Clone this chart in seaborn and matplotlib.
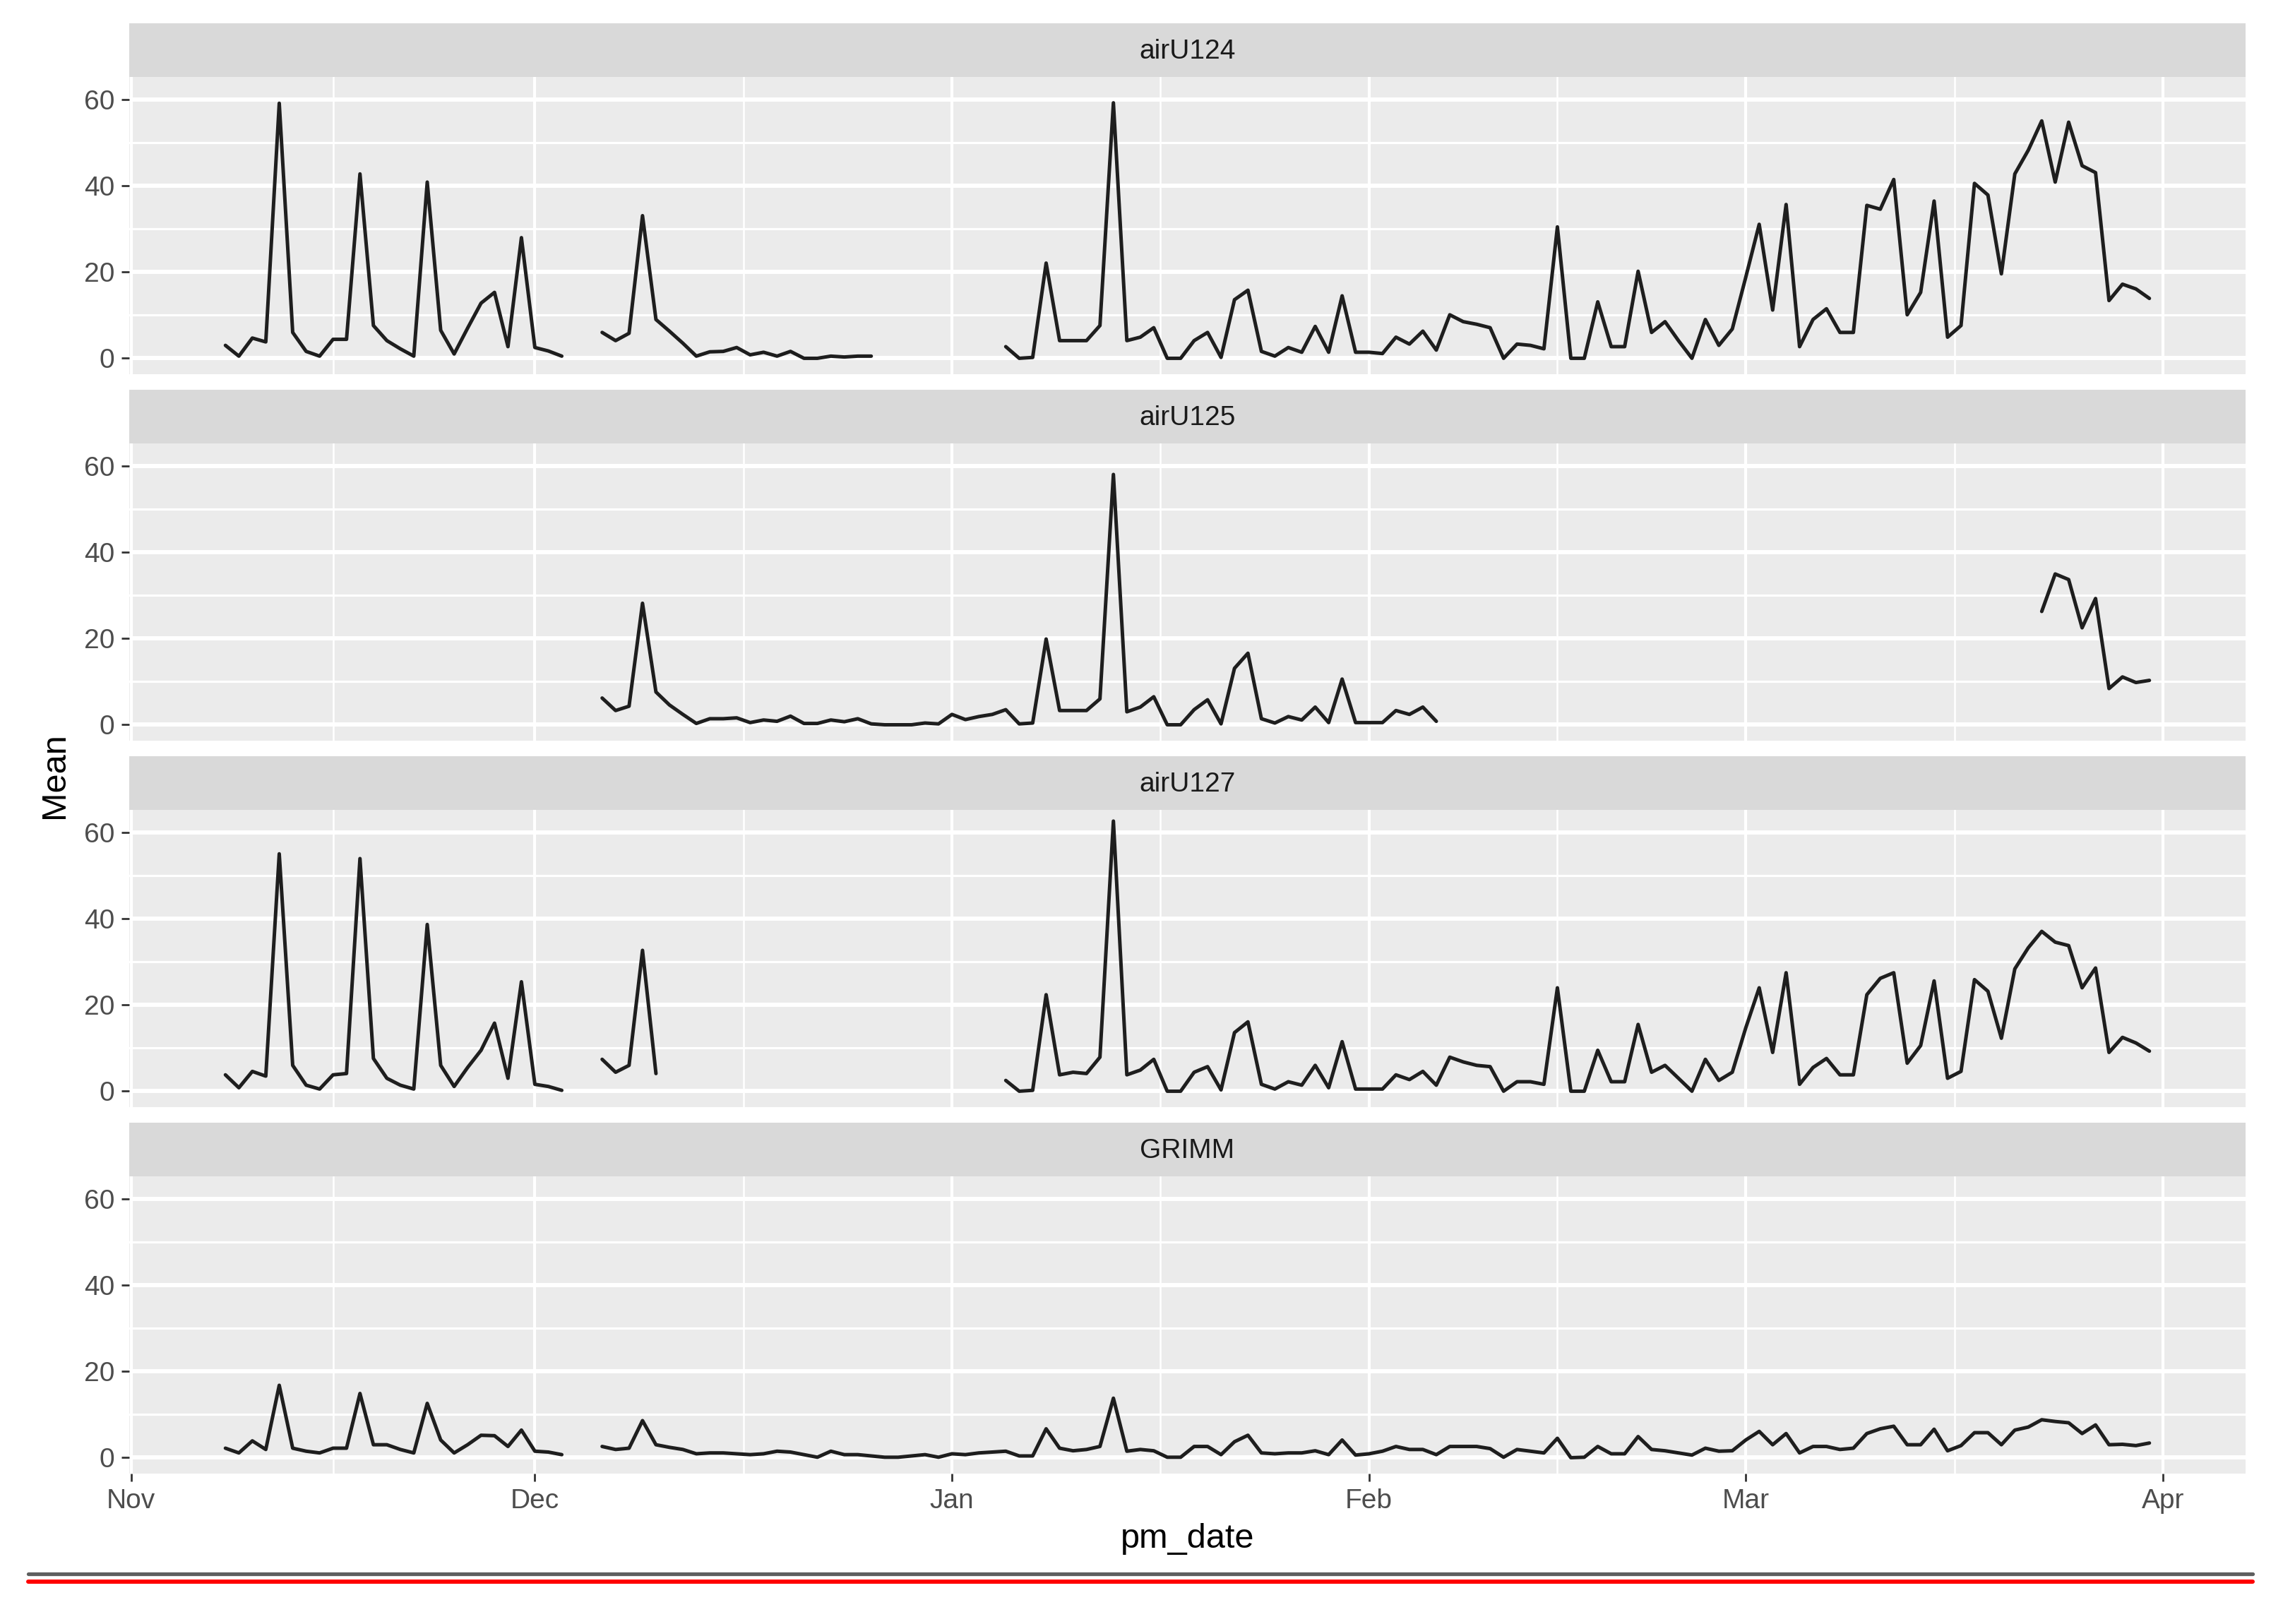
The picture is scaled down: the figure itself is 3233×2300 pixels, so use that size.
#!/usr/bin/env python3

import matplotlib

matplotlib.use("Agg")
import matplotlib.dates as mdates
import matplotlib.pyplot as plt
import pandas
import seaborn as sns
from matplotlib.lines import Line2D
from matplotlib.ticker import FixedLocator

# Daily means, one value per day.
# Each list is a run of consecutive days starting at the date next to it.
sensors = ["airU124", "airU125", "airU127", "GRIMM"]

airu124_a_start = "2017-11-08"
airu124_a = [3.0, 0.5, 4.7, 3.8, 59.2, 6.0, 1.6, 0.5, 4.4, 4.4, 42.8, 7.6, 4.1,
             2.2, 0.5, 40.9, 6.5, 1.0, 7.0, 12.8, 15.3, 2.7, 28.0, 2.5, 1.7, 0.5]
airu124_b_start = "2017-12-06"
airu124_b = [6.0, 4.1, 5.8, 33.1, 9.0, 6.3, 3.5, 0.5, 1.5, 1.6, 2.5, 0.8, 1.4,
             0.5, 1.6, 0.0, 0.0, 0.5, 0.3, 0.5, 0.5]
airu124_c_start = "2018-01-05"
airu124_c = [2.7, 0.0, 0.2, 22.1, 4.1, 4.1, 4.1, 7.6, 59.3, 4.1, 4.9, 7.1,
             0.0, 0.0, 4.1, 6.0, 0.2, 13.6, 15.8, 1.6, 0.5, 2.5, 1.4, 7.4, 1.4, 14.5,
             1.4, 1.4, 1.1, 4.9, 3.3, 6.3, 1.9, 10.1, 8.5, 7.9, 7.1, 0.0, 3.3, 3.0, 2.2,
             30.5, 0.0, 0.0, 13.1, 2.7, 2.7, 20.2, 6.0, 8.5, 4.1, 0.0, 9.0, 3.0, 6.8, 18.8,
             31.1, 11.2, 35.7, 2.7, 9.0, 11.5, 6.0, 6.0, 35.5, 34.6, 41.5, 10.1, 15.3, 36.5, 4.9,
             7.6, 40.6, 37.9, 19.6, 42.8, 48.3, 55.1, 40.9, 54.8, 44.7, 43.1, 13.4, 17.2, 16.1, 13.9]

airu125_a_start = "2017-12-06"
airu125_a = [6.2, 3.3, 4.3, 28.2, 7.6, 4.6, 2.4, 0.3, 1.4, 1.4, 1.6, 0.5, 1.1, 0.8, 2.0, 0.3,
             0.3, 1.1, 0.7, 1.4, 0.2, 0.0, 0.0, 0.0, 0.4, 0.2, 2.4, 1.2, 1.9, 2.4, 3.5,
             0.2, 0.4, 19.9, 3.3, 3.3, 3.3, 6.0, 58.1, 3.0, 4.1, 6.5, 0.0, 0.0, 3.5, 5.8,
             0.2, 13.1, 16.6, 1.4, 0.4, 1.9, 1.1, 4.1, 0.5, 10.6, 0.5, 0.5, 0.5, 3.3, 2.4, 4.1, 0.8]
airu125_b_start = "2018-03-23"
airu125_b = [26.3, 35.0, 33.7, 22.5, 29.3, 8.4, 11.1, 9.8, 10.3]

airu127_a_start = "2017-11-08"
airu127_a = [3.8, 0.8, 4.6, 3.5, 55.1, 6.0, 1.4, 0.5, 3.8, 4.1, 54.0, 7.6, 3.0,
             1.4, 0.5, 38.7, 6.0, 1.1, 5.5, 9.5, 15.8, 3.0, 25.4, 1.6, 1.1, 0.2]
airu127_b_start = "2017-12-06"
airu127_b = [7.4, 4.4, 6.0, 32.7, 4.1]
airu127_c_start = "2018-01-05"
airu127_c = [2.5, 0.0, 0.2, 22.4, 3.8, 4.4, 4.1, 7.9, 62.7, 3.8, 4.9, 7.4,
             0.0, 0.0, 4.4, 5.7, 0.3, 13.6, 16.1, 1.6, 0.5, 2.2, 1.4, 6.0, 0.8, 11.5,
             0.5, 0.5, 0.5, 3.8, 2.7, 4.6, 1.4, 7.9, 6.8, 6.0, 5.7, 0.0, 2.2, 2.2, 1.6,
             24.0, 0.0, 0.0, 9.5, 2.2, 2.2, 15.5, 4.4, 6.0, 3.0, 0.0, 7.4, 2.5, 4.4, 14.7,
             24.0, 9.0, 27.5, 1.6, 5.5, 7.6, 3.8, 3.8, 22.4, 26.2, 27.5, 6.5, 10.6, 25.6, 3.0,
             4.6, 25.9, 23.2, 12.3, 28.4, 33.3, 37.1, 34.6, 33.8, 24.0, 28.6, 9.0, 12.5, 11.2, 9.3]

grimm_a_start = "2017-11-08"
grimm_a = [2.2, 1.1, 3.9, 1.9, 16.8, 2.2, 1.5, 1.1, 2.2, 2.2, 14.9, 3.0, 3.0,
           1.9, 1.1, 12.6, 4.1, 1.1, 3.0, 5.2, 5.1, 2.6, 6.4, 1.5, 1.3, 0.7]
grimm_b_start = "2017-12-06"
grimm_b = [2.6, 1.9, 2.2, 8.6, 3.0, 2.4, 1.9, 0.9, 1.1, 1.1, 0.9, 0.7, 0.9, 1.5, 1.3, 0.7,
           0.1, 1.5, 0.7, 0.7, 0.4, 0.1, 0.1, 0.4, 0.7, 0.1, 0.9, 0.7, 1.1, 1.3, 1.5,
           0.4, 0.4, 6.7, 2.2, 1.6, 1.9, 2.6, 13.8, 1.5, 1.9, 1.6, 0.1, 0.1, 2.6, 2.6,
           0.7, 3.7, 5.2, 1.1, 0.9, 1.1, 1.1, 1.6, 0.7, 4.1, 0.6, 0.9, 1.5, 2.6, 1.9,
           1.9, 0.7, 2.6, 2.6, 2.6, 2.1, 0.1, 1.9, 1.5, 1.1, 4.5, 0.0, 0.1, 2.6, 0.9,
           0.9, 4.9, 1.9, 1.6, 1.1, 0.6, 2.2, 1.5, 1.6, 4.1, 6.1, 3.0, 5.6, 1.1, 2.6,
           2.6, 1.9, 2.2, 5.6, 6.7, 7.3, 3.0, 3.0, 6.6, 1.6, 2.8, 5.8, 5.8, 3.0, 6.4,
           7.1, 8.8, 8.4, 8.1, 5.6, 7.6, 3.0, 3.1, 2.8, 3.4]

month_breaks = ["2017-11-01", "2017-12-01", "2018-01-01", "2018-02-01", "2018-03-01", "2018-04-01"]
y_breaks = [0, 20, 40, 60]
y_minor = [10, 30, 50]


def build_frame():
    """
    Stack the runs into one long frame, one segment id per unbroken run.
    """
    runs = [
        ("airU124", airu124_a_start, airu124_a),
        ("airU124", airu124_b_start, airu124_b),
        ("airU124", airu124_c_start, airu124_c),
        ("airU125", airu125_a_start, airu125_a),
        ("airU125", airu125_b_start, airu125_b),
        ("airU127", airu127_a_start, airu127_a),
        ("airU127", airu127_b_start, airu127_b),
        ("airU127", airu127_c_start, airu127_c),
        ("GRIMM", grimm_a_start, grimm_a),
        ("GRIMM", grimm_b_start, grimm_b),
    ]
    frames = []
    for seg, (sensor, start, values) in enumerate(runs):
        dates = pandas.date_range(start, periods=len(values), freq="D")
        frames.append(pandas.DataFrame(
            {"pm_date": dates, "Mean": values, "sensor": sensor, "segment": seg}
        ))
    return pandas.concat(frames, ignore_index=True)


def main():
    df = build_frame()

    sns.set_theme(style="darkgrid")
    plt.rcParams["font.family"] = ["Liberation Sans", "DejaVu Sans"]

    W, H = 3233, 2300
    fig = plt.figure(figsize=(W / 100, H / 100), dpi=100)
    fig.patch.set_facecolor("white")

    left, right = 183, 3180
    strip_h, panel_h, pitch, top0 = 76, 421, 519, 33

    nov1 = mdates.date2num(pandas.Timestamp("2017-11-01"))
    majors = [mdates.date2num(pandas.Timestamp(d)) for d in month_breaks]
    minors = [(a + b) / 2 for a, b in zip(majors[:-1], majors[1:])]

    for i, sensor in enumerate(sensors):
        strip_top = top0 + pitch * i
        panel_top = strip_top + strip_h
        panel_bot = panel_top + panel_h

        # facet strip
        sax = fig.add_axes([left / W, 1 - panel_top / H, (right - left) / W, strip_h / H])
        sax.set_facecolor("#D9D9D9")
        sax.set_xticks([])
        sax.set_yticks([])
        for sp in sax.spines.values():
            sp.set_visible(False)
        sax.text(0.5, 0.47, sensor, ha="center", va="center", fontsize=28,
                 color="#1A1A1A", transform=sax.transAxes)

        ax = fig.add_axes([left / W, 1 - panel_bot / H, (right - left) / W, panel_h / H])
        sns.lineplot(
            data=df[df.sensor == sensor],
            x="pm_date",
            y="Mean",
            units="segment",
            estimator=None,
            color="#1E1E1E",
            linewidth=3.6,
            legend=False,
            ax=ax,
        )
        ax.set_facecolor("#EBEBEB")
        for sp in ax.spines.values():
            sp.set_visible(False)
        ax.set_xlim(nov1 - 0.15, nov1 + 157.15)
        ax.set_ylim(-3.7, 65.3)
        ax.xaxis.set_major_locator(FixedLocator(majors))
        ax.xaxis.set_minor_locator(FixedLocator(minors))
        ax.xaxis.set_major_formatter(mdates.DateFormatter("%b"))
        ax.yaxis.set_major_locator(FixedLocator(y_breaks))
        ax.yaxis.set_minor_locator(FixedLocator(y_minor))
        ax.set_axisbelow(True)
        ax.grid(False)
        ax.grid(which="major", axis="y", color="white", linewidth=4.3)
        ax.grid(which="minor", axis="y", color="white", linewidth=2.3)
        ax.grid(which="major", axis="x", color="white", linewidth=3.0)
        ax.grid(which="minor", axis="x", color="white", linewidth=1.8)
        ax.set_xlabel("")
        ax.set_ylabel("")
        ax.tick_params(axis="y", which="major", length=8, width=2, color="#333333",
                       labelsize=28, labelcolor="#4D4D4D", pad=7, left=True)
        ax.tick_params(which="minor", length=0)
        if i < len(sensors) - 1:
            ax.tick_params(axis="x", which="major", length=0, labelbottom=False)
        else:
            ax.tick_params(axis="x", which="major", length=8, width=2, color="#333333",
                           labelsize=28, labelcolor="#4D4D4D", pad=7, bottom=True)

    fig.text(78 / W, 1 - 1098 / H, "Mean", rotation=90, ha="center", va="center",
             fontsize=35, color="black")
    fig.text((left + right) / 2 / W, 1 - 2179 / H, "pm_date", ha="center", va="center",
             fontsize=35, color="black")

    # underline rules at the bottom of the picture
    fig.add_artist(Line2D([40 / W, 3190 / W], [1 - 2228.5 / H] * 2, color="#5E5E5E",
                          linewidth=3.8, transform=fig.transFigure))
    fig.add_artist(Line2D([40 / W, 3190 / W], [1 - 2240 / H] * 2, color="#FF0000",
                          linewidth=4.3, transform=fig.transFigure))

    fig.savefig("out.png", dpi=100, facecolor="white")


if __name__ == "__main__":
    main()
